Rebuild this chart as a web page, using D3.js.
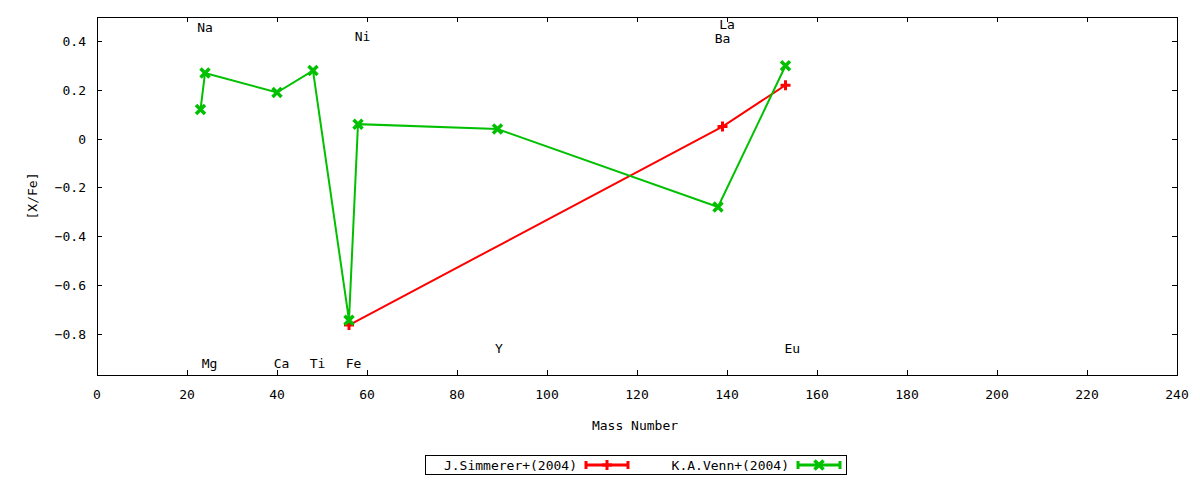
<!DOCTYPE html>
<html><head><meta charset="utf-8">
<script src="https://cdn.jsdelivr.net/npm/d3@7"></script>
<style>body{margin:0;background:#fff}text{font-family:"DejaVu Sans Mono",monospace;font-size:13px;fill:#000}</style>
</head><body><svg id="c" width="1200" height="480"></svg>
<script>
// Data
const simmererMass = [56, 139, 153];
const simmererVal  = [-0.765, 0.05, 0.22];
const vennMass = [23, 24, 40, 48, 56, 58, 89, 138, 153];
const vennVal  = [0.12, 0.27, 0.19, 0.28, -0.745, 0.06, 0.04, -0.28, 0.30];
const labelText = ["Na","Mg","Ca","Ti","Fe","Ni","Y","Ba","La","Eu"];
const labelX    = [24, 25, 41, 49, 57, 59, 89.3, 139, 140, 154.5];
const labelY    = [0.46, -0.92, -0.92, -0.92, -0.92, 0.42, -0.86, 0.415, 0.47, -0.86];
const xTicks = [0,20,40,60,80,100,120,140,160,180,200,220,240];
const yTicks = [0.4,0.2,0,-0.2,-0.4,-0.6,-0.8];
const seriesNames = ["J.Simmerer+(2004)","K.A.Venn+(2004)"];
const seriesColors = ["#ff0000","#00c000"];

const svg = d3.select("#c");
const L=97,R=1177,T=17,B=375;
const x = d3.scaleLinear().domain([0,240]).range([L,R]);
const y = d3.scaleLinear().domain([-0.97,0.5]).range([B,T]);
const tl=5;
const g = svg.append("g");
// ticks
xTicks.forEach(t=>{
  const px = Math.round(x(t))+0.5;
  if(t>0 && t<240){
    g.append("line").attr("x1",px).attr("x2",px).attr("y1",B).attr("y2",B-tl).attr("stroke","#000");
    g.append("line").attr("x1",px).attr("x2",px).attr("y1",T).attr("y2",T+tl).attr("stroke","#000");
  }
  g.append("text").attr("x",x(t)).attr("y",B+24).attr("text-anchor","middle").text(d3.format("d")(t));
});
yTicks.forEach(t=>{
  const py = Math.round(y(t))+0.5;
  g.append("line").attr("x1",L).attr("x2",L+tl).attr("y1",py).attr("y2",py).attr("stroke","#000");
  g.append("line").attr("x1",R).attr("x2",R-tl).attr("y1",py).attr("y2",py).attr("stroke","#000");
  g.append("text").attr("x",86).attr("y",y(t)+5).attr("text-anchor","end").text(t===0?"0":d3.format(".1f")(t));
});
g.append("rect").attr("x",L+0.5).attr("y",T+0.5).attr("width",R-L).attr("height",B-T).attr("fill","none").attr("stroke","#000");
// axis labels
g.append("text").attr("x",635).attr("y",430).attr("text-anchor","middle").text("Mass Number");
g.append("text").attr("transform","translate(37,196) rotate(-90)").attr("text-anchor","middle").text("[X/Fe]");
// element labels
labelText.forEach((s,i)=>{
  g.append("text").attr("x",x(labelX[i])).attr("y",y(labelY[i])+5).attr("text-anchor","middle").text(s);
});
// markers
function plus(sel,cx,cy,col){
  sel.append("path").attr("d",`M${cx-5},${cy}H${cx+5}M${cx},${cy-5}V${cy+5}`).attr("stroke",col).attr("stroke-width",3).attr("fill","none");
}
function cross(sel,cx,cy,col){
  sel.append("path").attr("d",`M${cx-4.5},${cy-4.5}L${cx+4.5},${cy+4.5}M${cx-4.5},${cy+4.5}L${cx+4.5},${cy-4.5}`).attr("stroke",col).attr("stroke-width",3.5).attr("fill","none");
}
const line = d3.line().x(d=>x(d[0])).y(d=>y(d[1]));
const sData = simmererMass.map((m,i)=>[m,simmererVal[i]]);
const vData = vennMass.map((m,i)=>[m,vennVal[i]]);
g.append("path").datum(sData).attr("d",line).attr("fill","none").attr("stroke",seriesColors[0]).attr("stroke-width",2);
sData.forEach(d=>plus(g,x(d[0]),y(d[1]),seriesColors[0]));
g.append("path").datum(vData).attr("d",line).attr("fill","none").attr("stroke",seriesColors[1]).attr("stroke-width",2);
vData.forEach(d=>cross(g,x(d[0]),y(d[1]),seriesColors[1]));
// legend
g.append("rect").attr("x",425.5).attr("y",455.5).attr("width",421).attr("height",19).attr("fill","none").attr("stroke","#000");
const legX=[577,789];
seriesNames.forEach((n,i)=>{
  g.append("text").attr("x",legX[i]).attr("y",470).attr("text-anchor","end").text(n);
  const x0=legX[i]+9,x1=legX[i]+51,cy=465;
  g.append("path").attr("d",`M${x0},${cy}H${x1}M${x0},${cy-4}V${cy+4}M${x1},${cy-4}V${cy+4}`).attr("stroke",seriesColors[i]).attr("stroke-width",3);
  if(i===0) plus(g,(x0+x1)/2,cy,seriesColors[i]); else cross(g,(x0+x1)/2,cy,seriesColors[i]);
});
</script></body></html>
